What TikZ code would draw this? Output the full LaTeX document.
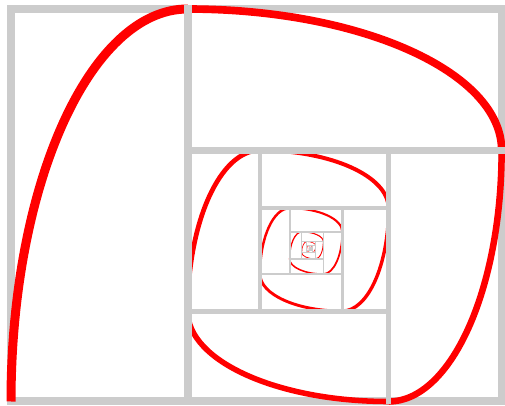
\documentclass[tikz,border=0pt]{standalone}
\usepackage{tikz}
\definecolor{framegray}{RGB}{204,204,204}
\begin{document}
\begin{tikzpicture}[x=1pt,y=1pt,
  frame/.style={draw=framegray},
  spiral/.style={draw=red,line cap=butt}]
\useasboundingbox (0,0) rectangle (505,406);
\coordinate (eye) at (310.16,157.65);
\draw[frame,line width=8pt] (11,4.5) rectangle (501.6,397);
\foreach \i in {0,...,29}{
  \pgfmathsetmacro\s{0.8^\i}
  \pgfmathsetmacro\w{9*0.85^\i}
  \begin{scope}[shift={(eye)},rotate=-90*\i,scale=\s]
  \draw[spiral,line width=\w pt] (-299.16,-153.15) .. controls (-299.16,63.63) and (-220.08,239.35) .. (-122.53,239.35);
  \end{scope}
}
\foreach \i in {0,...,29}{
  \pgfmathsetmacro\s{0.8^\i}
  \pgfmathsetmacro\w{8*0.85^\i}
  \begin{scope}[shift={(eye)},rotate=-90*\i,scale=\s]
  \draw[frame,line cap=rect,line width=\w pt] (-122.53,-153.15) -- (-122.53,239.35);
  \end{scope}
}
\end{tikzpicture}
\end{document}
